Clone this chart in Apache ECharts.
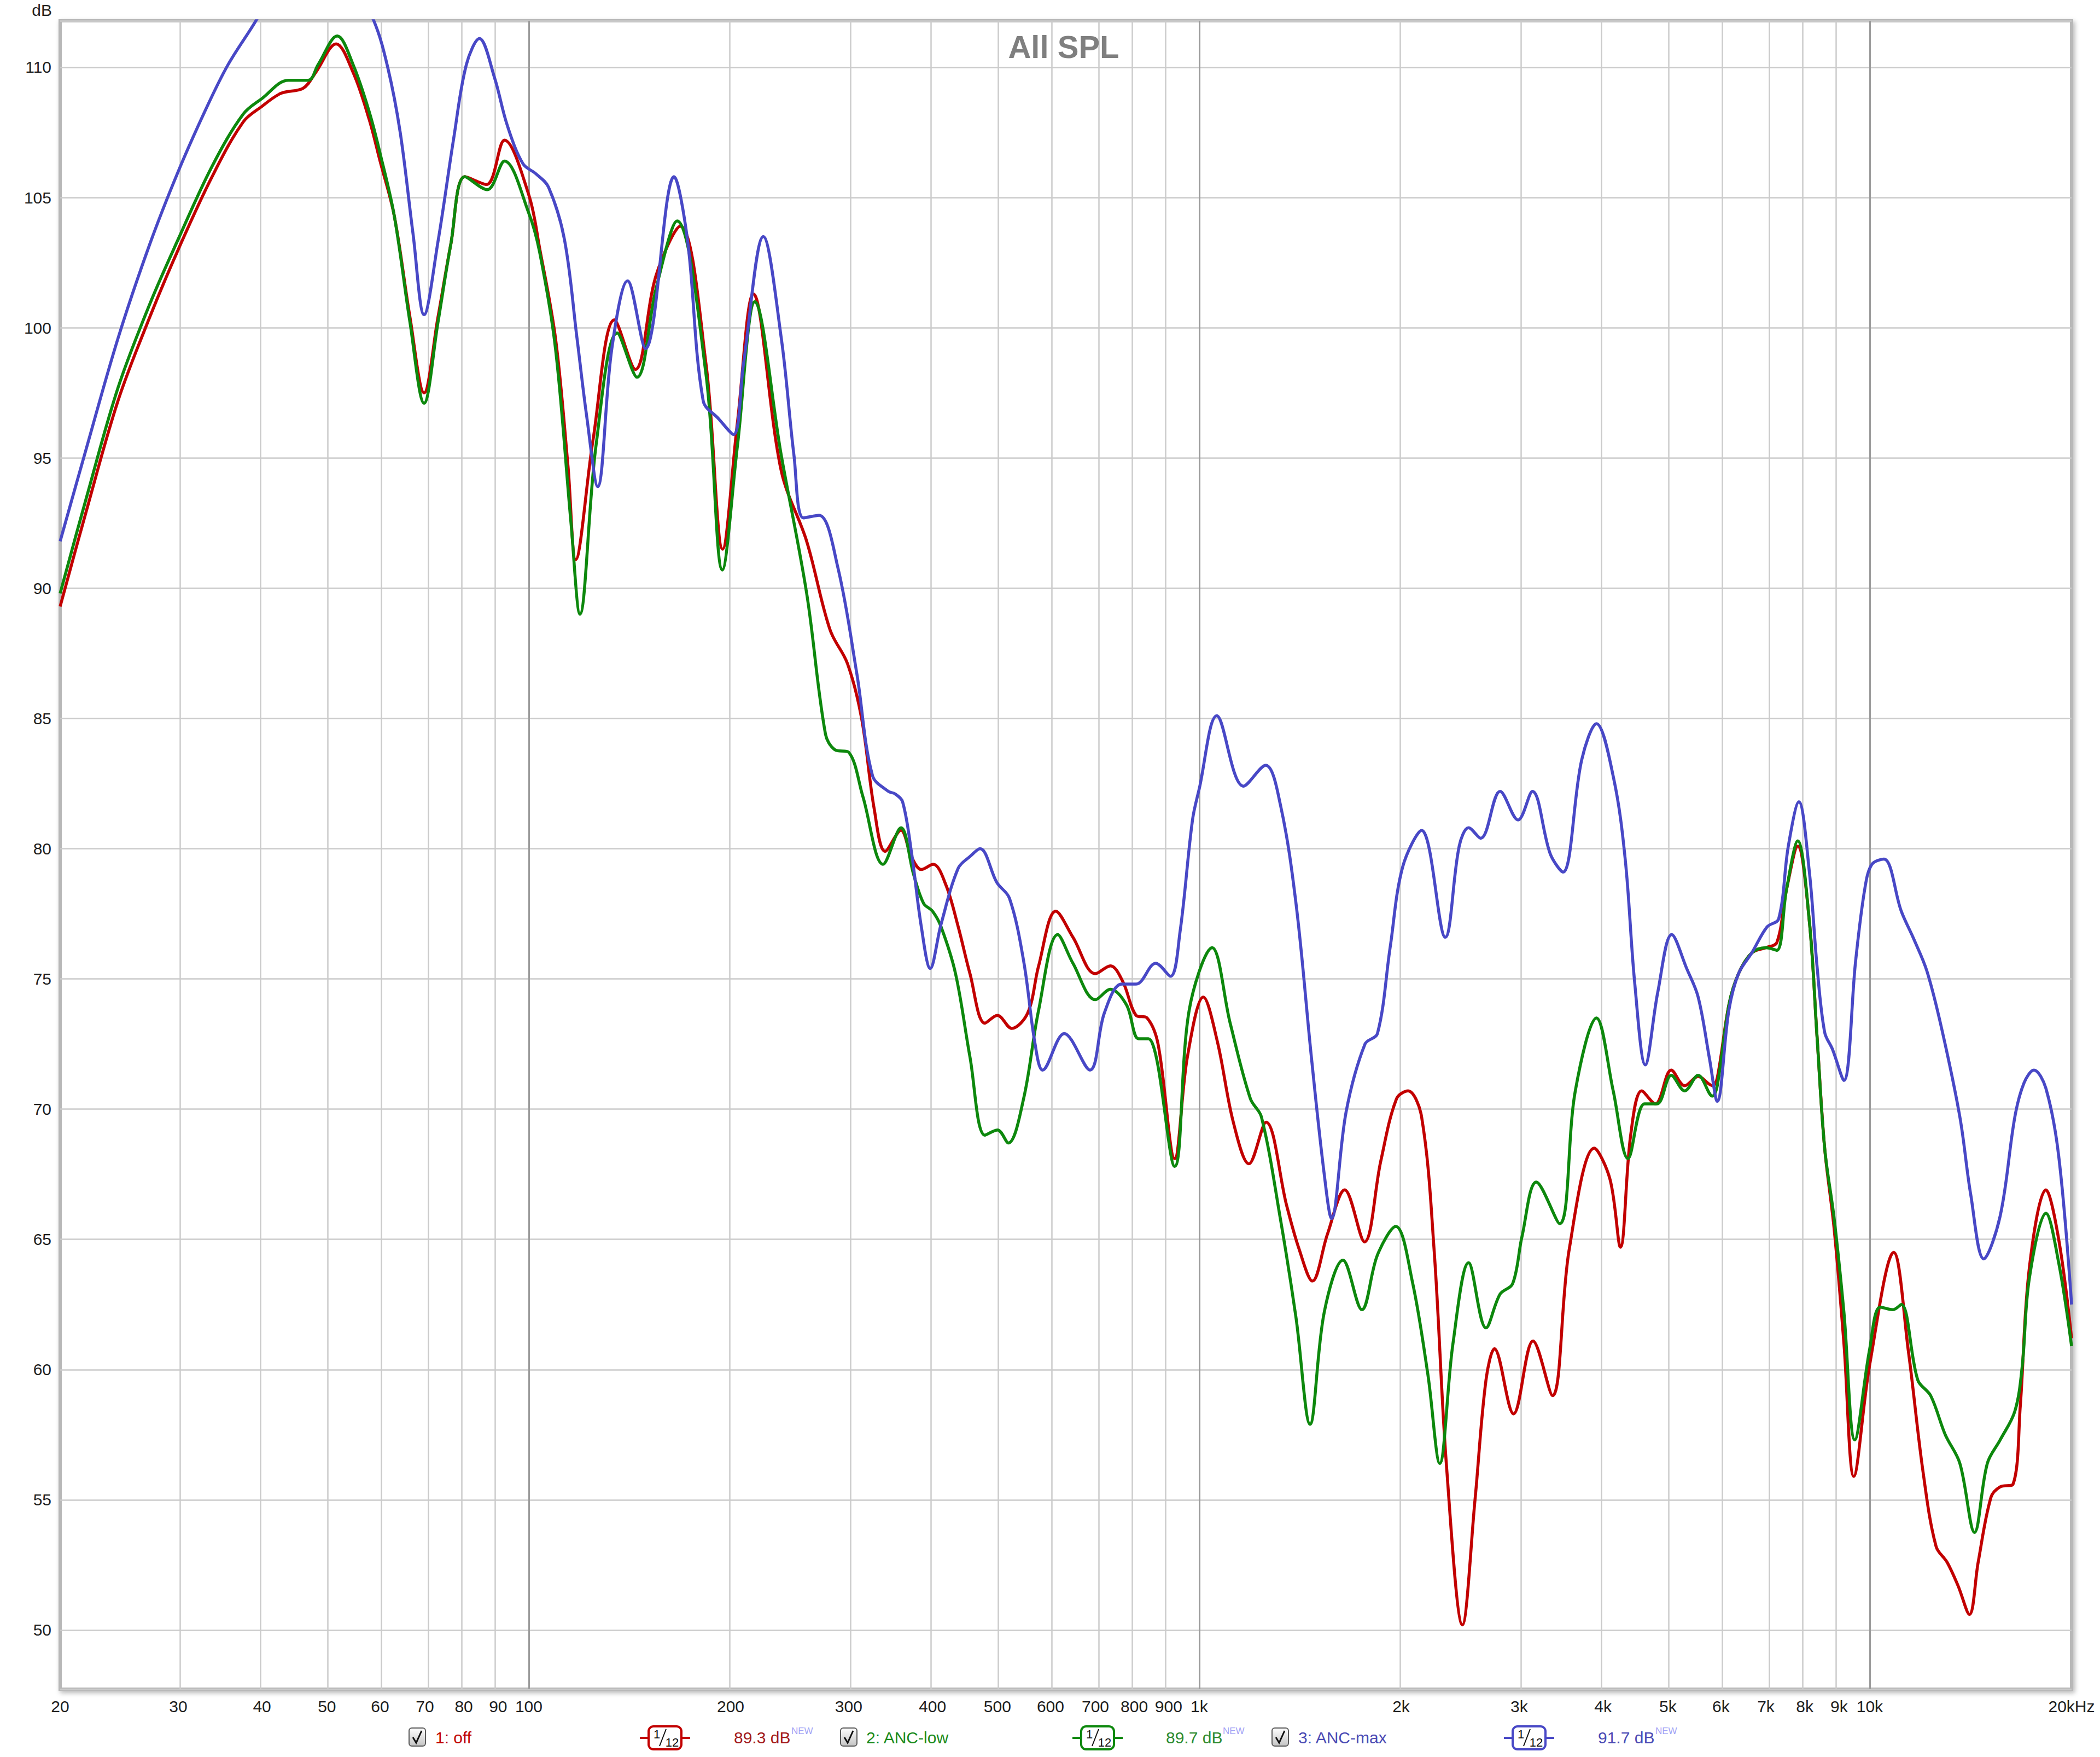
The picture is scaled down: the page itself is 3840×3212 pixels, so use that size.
<!DOCTYPE html>
<html>
<head>
<meta charset="utf-8">
<script src="https://cdn.jsdelivr.net/npm/echarts@6/dist/echarts.min.js"></script>
<style>html,body{margin:0;padding:0;background:#fff}#c{width:3840px;height:3212px}</style>
</head>
<body>
<div id="c"></div>
<script>
// ---------- tick definitions ----------
const xTickHz = [20,30,40,50,60,70,80,90,100,200,300,400,500,600,700,800,900,1000,2000,3000,4000,5000,6000,7000,8000,9000,10000,20000];
const xTickLabels = ['20','30','40','50','60','70','80','90','100','200','300','400','500','600','700','800','900','1k','2k','3k','4k','5k','6k','7k','8k','9k','10k','20kHz'];
const xMajorHz = [100,1000,10000];
const yTickDb = [50,55,60,65,70,75,80,85,90,95,100,105,110];

// ---------- series values [frequency Hz, dB] ----------
const offPoints = [[20,89.3],[21.9,93.0],[24.4,97.2],[27.2,100.4],[30,103.0],[33.7,105.8],[37.5,107.9],[40,108.5],[42.7,109.0],[46.1,109.2],[48.1,109.8],[51.6,110.9],[54.7,109.8],[57.8,108.0],[60,106.4],[63,104.3],[66.5,100.4],[69.8,97.5],[73.2,100.4],[76.5,103.2],[80.3,105.8],[86.5,105.5],[92,107.2],[100,105.1],[103.8,103.05],[109.6,99.6],[114.4,94.7],[117.5,91.1],[124.7,95.7],[134.2,100.3],[144.2,98.4],[154.8,102.0],[168.2,103.9],[183.8,98.6],[194.6,91.5],[204.8,96.4],[216.2,101.3],[238,94.5],[259.7,91.8],[281.4,88.4],[298.8,87.1],[313.6,85.0],[327.6,81.5],[340,79.9],[359,80.7],[372,79.7],[385,79.2],[401,79.4],[419,78.6],[437,77.0],[455,75.2],[479,73.3],[500,73.6],[525,73.1],[555,73.7],[576,75.5],[611,77.6],[648,76.6],[700,75.2],[737,75.5],[769,74.9],[805,73.6],[836,73.5],[868,72.5],[919,68.1],[960,72.0],[1014,74.3],[1064,72.6],[1124,69.5],[1186,67.9],[1258,69.5],[1350,66.3],[1410,64.6],[1475,63.4],[1553,65.2],[1648,66.9],[1764,64.9],[1865,68.0],[1969,70.4],[2048,70.7],[2146,69.7],[2240,64.6],[2339,56.2],[2469,50.2],[2578,55.0],[2677,59.6],[2756,60.8],[2943,58.3],[3146,61.1],[3364,59.0],[3562,64.6],[3884,68.5],[4099,67.3],[4248,64.7],[4400,69.0],[4570,70.7],[4790,70.2],[5058,71.5],[5297,70.9],[5548,71.25],[5828,70.9],[5924,71.2],[6165,74.0],[6372,75.2],[6670,76.0],[7000,76.2],[7270,76.4],[7510,78.4],[7810,80.1],[8128,77.2],[8344,72.8],[8566,68.5],[8850,65.4],[9152,61.0],[9468,55.9],[10000,60.2],[10858,64.5],[11420,60.7],[12020,56.0],[12562,53.2],[13046,52.6],[13544,51.7],[14084,50.6],[14512,52.6],[15166,55.1],[15652,55.5],[16358,55.6],[16770,58.6],[17300,63.9],[18312,66.9],[19136,65.0],[20000,61.2]];

const ancLowPoints = [[20,89.8],[21.9,93.5],[24.4,97.7],[27.2,100.9],[30,103.4],[33.7,106.2],[37.5,108.2],[40,108.8],[43.8,109.5],[46.9,109.5],[48.5,110.1],[51.8,111.2],[54.7,110.1],[57.8,108.3],[60,106.7],[63,104.3],[66.5,100.2],[69.8,97.1],[73.2,100.2],[76.5,103.2],[80.3,105.8],[86.7,105.3],[92,106.4],[100,104.4],[103.8,102.9],[109.6,99.2],[115.6,92.5],[119.2,89.0],[126,95.5],[135.5,99.8],[145,98.1],[154.8,101.5],[166.4,104.1],[183.8,98.2],[194.4,90.7],[204.8,95.5],[217.4,101.0],[238,95.1],[259.7,89.8],[277,84.4],[286,83.8],[300,83.7],[315,82.0],[337.6,79.4],[359,80.8],[375,79.0],[388,77.9],[400,77.6],[412,77.0],[433,75.2],[455,72.0],[479,69.0],[500,69.2],[519,68.7],[547,70.4],[576,73.8],[615,76.7],[648,75.6],[700,74.2],[737,74.6],[779,74.0],[812,72.7],[840,72.7],[919,67.8],[966,73.8],[1045,76.2],[1112,73.3],[1192,70.4],[1238,69.7],[1321,65.8],[1394,62.0],[1463,57.9],[1536,62.2],[1638,64.2],[1748,62.3],[1844,64.4],[1964,65.5],[2078,63.4],[2193,59.8],[2284,56.4],[2390,61.0],[2522,64.1],[2677,61.6],[2810,62.9],[2934,63.3],[3029,65.1],[3182,67.2],[3448,65.6],[3638,70.7],[3912,73.5],[4144,70.7],[4360,68.1],[4614,70.2],[4816,70.2],[5058,71.3],[5297,70.7],[5548,71.3],[5828,70.5],[5924,70.9],[6165,74.0],[6372,75.2],[6670,76.0],[7000,76.2],[7270,76.1],[7510,78.4],[7810,80.3],[8128,77.2],[8344,72.8],[8566,68.5],[8850,65.8],[9152,62.2],[9500,57.3],[10000,60.8],[10368,62.4],[10830,62.3],[11144,62.5],[11794,59.6],[12328,59.0],[12962,57.5],[13628,56.4],[14332,53.75],[14976,56.4],[15652,57.3],[16460,58.4],[16878,60.1],[17300,63.5],[18312,66.0],[19136,64.1],[20000,60.9]];

const ancMaxPoints = [[20,91.8],[21.9,95.4],[24.4,99.6],[27.2,103.2],[30,106.0],[33,108.4],[35.6,110.1],[39.2,111.8],[42,113.2],[46,114.0],[50,114.2],[54,113.5],[58.7,111.8],[61.6,110.0],[64.3,107.5],[67.2,103.6],[69.8,100.5],[73.2,103.3],[77.3,107.3],[80.7,110.1],[84.4,111.1],[88.9,109.6],[92.8,107.8],[98,106.3],[102.6,105.9],[107,105.4],[113,103.4],[118,99.6],[122,96.6],[126.7,93.9],[133,99.2],[140.4,101.8],[149.3,99.2],[164.7,105.8],[172.4,103.4],[182,97.2],[192,96.5],[202,95.9],[209,98.6],[223.8,103.5],[238,99.6],[248.6,95.1],[256.8,92.7],[271,92.8],[289,90.8],[308.6,86.7],[325.6,82.8],[343.8,82.2],[352,82.1],[361,81.8],[372,79.9],[385,77.0],[397,75.4],[412,77.1],[437,79.25],[455,79.7],[471,80.0],[499,78.7],[521,78.1],[547,75.7],[569,72.5],[584,71.5],[629,72.9],[687,71.5],[722,73.7],[766,74.8],[805,74.8],[861,75.6],[906,75.1],[936,76.8],[977,81.1],[1000,82.3],[1062,85.1],[1164,82.4],[1256,83.2],[1321,81.7],[1394,77.9],[1471,71.9],[1536,67.5],[1575,65.8],[1656,69.9],[1767,72.5],[1844,72.9],[1926,76.2],[2011,79.3],[2146,80.7],[2328,76.6],[2442,80.1],[2522,80.8],[2629,80.4],[2810,82.2],[2989,81.1],[3140,82.2],[3338,79.8],[3486,79.1],[3718,83.4],[3912,84.8],[4150,82.7],[4318,79.6],[4463,74.8],[4626,71.7],[4830,74.5],[5066,76.7],[5333,75.4],[5548,74.3],[5771,71.9],[5924,70.3],[6165,73.8],[6372,75.2],[6670,76.0],[7031,77.0],[7314,77.3],[7561,80.1],[7840,81.8],[8128,79.1],[8344,75.5],[8566,72.95],[8798,72.3],[9150,71.1],[9528,75.7],[9838,78.5],[10076,79.4],[10500,79.6],[11144,77.6],[11648,76.5],[12170,75.3],[12800,73.1],[13628,69.7],[14150,66.7],[14792,64.25],[15652,65.9],[16460,69.7],[16984,71.0],[17576,71.5],[18312,70.8],[19136,68.2],[20000,62.5]];

const seriesNames = ['1: off','2: ANC-low','3: ANC-max'];
const seriesLevels = ['89.3 dB','89.7 dB','91.7 dB'];

// ---------- styling ----------
const FONT = '"Liberation Sans", Arial, sans-serif';
const colors = ['#c20000','#0d880d','#4848c6'];
const textColors = ['#c00000','#1a8a1a','#4a4ab4'];
const levelColors = ['#a31a1a','#2e8b2e','#4a4ab4'];
const lg = (f) => Math.log10(f);
const toXY = pts => pts.map(p => [lg(p[0]), p[1]]);

const gridLineData = xTickHz.filter(f => f !== 20 && f !== 20000).map(f => {
  const major = xMajorHz.indexOf(f) >= 0;
  return { xAxis: lg(f), lineStyle: { color: major ? '#9c9c9c' : '#cbcbcb', width: major ? 3 : 2.5, type: 'solid' } };
});

function checkbox(x, y) {
  return {
    type: 'group', z: 100, children: [
      { type: 'rect', shape: { x: x, y: y, width: 30, height: 33, r: 5 },
        style: { fill: new echarts.graphic.LinearGradient(0,0,0,1,[{offset:0,color:'#ffffff'},{offset:1,color:'#c4c4c4'}]), stroke: '#5a5a5a', lineWidth: 2 } },
      { type: 'polyline', shape: { points: [[x+7, y+17],[x+13, y+27],[x+23, y+5]] },
        style: { stroke: '#111', lineWidth: 3, fill: null } }
    ]
  };
}
function filterIcon(cx, cy, color) {
  return {
    type: 'group', z: 100, children: [
      { type: 'line', shape: { x1: cx-46, y1: cy, x2: cx+46, y2: cy }, style: { stroke: color, lineWidth: 4 } },
      { type: 'rect', shape: { x: cx-30, y: cy-21, width: 60, height: 42, r: 9 }, style: { fill: '#fff', stroke: color, lineWidth: 4 } },
      { type: 'text', style: { text: '1', x: cx-15, y: cy-7, font: '22px ' + FONT, fill: '#111', textAlign: 'center', textVerticalAlign: 'middle' } },
      { type: 'line', shape: { x1: cx-10, y1: cy+15, x2: cx+2, y2: cy-16 }, style: { stroke: '#111', lineWidth: 2 } },
      { type: 'text', style: { text: '12', x: cx+13, y: cy+8, font: '22px ' + FONT, fill: '#111', textAlign: 'center', textVerticalAlign: 'middle' } }
    ]
  };
}
function txt(s, x, y, color, size) {
  return { type: 'text', z: 100, style: { text: s, x: x, y: y, font: (size || 30) + 'px ' + FONT, fill: color, textAlign: 'left', textVerticalAlign: 'middle' } };
}

const legendY = 3176;
const legendLayout = [
  { cb: 748, name: 796, icon: 1216, level: 1342, sup: 1447 },
  { cb: 1537, name: 1584, icon: 2007, level: 2132, sup: 2236 },
  { cb: 2326, name: 2374, icon: 2796, level: 2922, sup: 3027 }
];
const graphics = [
  { type: 'text', z: 100, style: { text: 'All SPL', x: 1945, y: 85, font: 'bold 58px ' + FONT, fill: '#7f7f7f', textAlign: 'center', textVerticalAlign: 'middle' } },
  { type: 'text', z: 100, style: { text: 'dB', x: 95, y: 18, font: '30px ' + FONT, fill: '#222', textAlign: 'right', textVerticalAlign: 'middle' } }
];
legendLayout.forEach((L, i) => {
  graphics.push(checkbox(L.cb, legendY - 17));
  graphics.push(txt(seriesNames[i], L.name, legendY, textColors[i], 30));
  graphics.push(filterIcon(L.icon, legendY + 1, colors[i]));
  graphics.push(txt(seriesLevels[i], L.level, legendY, levelColors[i], 30));
  graphics.push(txt('NEW', L.sup, legendY - 12, '#a3a3f5', 17));
});

const chart = echarts.init(document.getElementById('c'), null, { renderer: 'svg', width: 3840, height: 3212 });
const allPoints = [offPoints, ancLowPoints, ancMaxPoints];
const series = allPoints.map((pts, i) => ({
  type: 'line',
  name: seriesNames[i],
  data: toXY(pts),
  showSymbol: false,
  symbol: 'none',
  smooth: 0.35,
  clip: true,
  z: 3 + i,
  lineStyle: { color: colors[i], width: 5.5 },
  itemStyle: { color: colors[i] }
}));
series[0].markLine = {
  silent: true, symbol: ['none','none'], z: 1, animation: false,
  label: { show: false }, emphasis: { disabled: true },
  data: gridLineData
};

chart.setOption({
  animation: false,
  backgroundColor: '#ffffff',
  grid: {
    show: true, left: 110, right: 52, top: 38, bottom: 124,
    backgroundColor: '#ffffff', borderColor: '#b8b8b8', borderWidth: 6,
    shadowColor: 'rgba(0,0,0,0.28)', shadowBlur: 8, shadowOffsetX: 3, shadowOffsetY: 4
  },
  xAxis: {
    type: 'value', min: lg(20), max: lg(20000),
    axisLine: { show: false }, axisTick: { show: false }, splitLine: { show: false },
    axisLabel: {
      customValues: xTickHz.map(lg),
      margin: 16, fontSize: 30, fontFamily: FONT, color: '#1e1e1e',
      formatter: function (v) {
        for (let i = 0; i < xTickHz.length; i++) { if (Math.abs(lg(xTickHz[i]) - v) < 1e-6) return xTickLabels[i]; }
        return '';
      }
    }
  },
  yAxis: {
    type: 'value', min: 47.73, max: 111.785, splitNumber: 13, minInterval: 5, maxInterval: 5,
    axisLine: { show: false }, axisTick: { show: false },
    splitLine: { show: true, lineStyle: { color: '#cbcbcb', width: 2.5 } },
    axisLabel: {
      margin: 16, fontSize: 30, fontFamily: FONT, color: '#1e1e1e',
      showMinLabel: false, showMaxLabel: false,
      formatter: function (v) { return yTickDb.indexOf(Math.round(v * 1000) / 1000) >= 0 ? String(v) : ''; }
    }
  },
  series: series,
  graphic: graphics
});
</script>
</body>
</html>
